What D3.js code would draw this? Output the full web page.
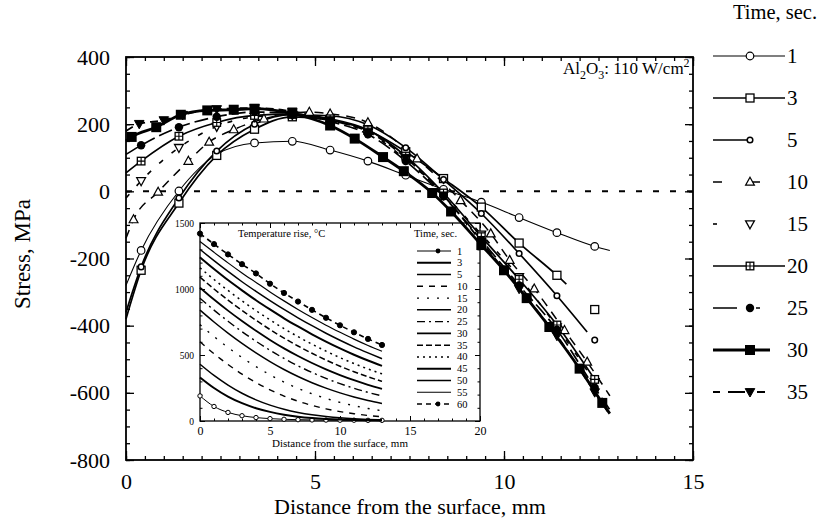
<!DOCTYPE html>
<html>
<head>
<meta charset="utf-8">
<script src="https://cdn.jsdelivr.net/npm/d3@7"></script>
<style>
  body { margin: 0; background: #fff; }
  svg { display: block; }
  text { font-family: "Liberation Serif", "DejaVu Serif", serif; fill: #000; }
</style>
</head>
<body>
<svg id="chart" width="825" height="527"></svg>
<script>
// ---- Stress profiles, Al2O3 at 110 W/cm2 (distance in mm, stress in MPa) ----
const timesMain = ["1", "3", "5", "10", "15", "20", "25", "30", "35"];

const s1x  = [0, 0.4, 1.4, 2.4, 3.4, 4.4, 5.4, 6.4, 7.4, 8.4, 9.4, 10.4, 11.4, 12.4, 12.8];
const s1y  = [-280, -176, 1, 110, 144, 149, 123, 90, 48, 6, -32, -78, -123, -164, -176];

// the last point of the 3 s and 5 s profiles is a lone measurement past the line end
const s3x  = [0, 0.4, 1.4, 2.4, 3.4, 4.4, 5.4, 6.4, 7.4, 8.4, 9.4, 10.4, 11.4, 11.65, 12.4];
const s3y  = [-380, -235, -35, 107, 185, 222, 212, 182, 118, 38, -47, -154, -250, -276, -352];

const s5x  = [0, 0.4, 1.4, 2.4, 3.4, 4.4, 5.4, 6.4, 7.4, 8.4, 9.4, 10.4, 11.4, 12.2, 12.4];
const s5y  = [-360, -225, -20, 120, 200, 228, 225, 198, 130, 35, -66, -185, -311, -419, -443];

const s10x = [0, 0.2, 0.85, 1.65, 2.2, 2.85, 3.65, 4.85, 5.4, 6.4, 7.7, 8.85, 9.65, 10.15, 10.8, 11.6, 12.2, 12.8];
const s10y = [-140, -84, -2, 90, 147, 184, 216, 236, 231, 205, 97, -27, -126, -205, -290, -414, -508, -609];

const s15x = [0, 0.4, 1.4, 2.4, 3.4, 4.4, 5.4, 6.4, 7.4, 8.4, 9.4, 10.4, 11.4, 12.4];
const s15y = [-20, 31, 130, 193, 222, 228, 212, 175, 95, -8, -128, -255, -404, -567];

const s20x = [0, 0.4, 1.4, 2.4, 3.4, 4.4, 5.4, 6.4, 7.4, 8.4, 9.4, 10.4, 11.4, 12.4];
const s20y = [55, 90, 164, 205, 226, 230, 216, 183, 105, -5, -135, -262, -398, -560];

const s25x = [0, 0.4, 1.4, 2.4, 3.4, 4.4, 5.4, 6.4, 7.4, 8.4, 9.4, 10.4, 11.4, 12.4, 12.8];
const s25y = [110, 137, 191, 222, 236, 232, 208, 170, 90, -15, -145, -280, -412, -585, -650];

const s30x = [0, 0.15, 0.8, 1.45, 2.15, 2.85, 3.4, 4.4, 5.4, 6.05, 6.8, 7.35, 8.1, 8.6, 9.4, 10.0, 10.6, 11.2, 12.0, 12.6, 12.8];
const s30y = [150, 162, 191, 228, 241, 243, 246, 231, 196, 157, 102, 60, -5, -60, -160, -235, -318, -404, -528, -630, -662];

const s35x = [0, 0.35, 1.0, 1.5, 2.4, 3.4, 4.4, 5.4, 6.4, 7.4, 8.4, 9.4, 10.4, 11.4, 12.4, 12.8];
const s35y = [180, 201, 212, 228, 245, 248, 238, 212, 178, 100, -12, -150, -290, -430, -598, -665];

const xTicksMain = [0, 5, 10, 15];
const yTicksMain = [400, 200, 0, -200, -400, -600, -800];

// ---- Inset: temperature rise (deg C) vs distance (mm) ----
const timesInset = ["1", "3", "5", "10", "15", "20", "25", "30", "35", "40", "45", "50", "55", "60"];
const instX = [0, 1, 2, 3, 4, 5, 6, 7, 8, 9, 10, 11, 12, 13];
const T1  = [190, 110, 65, 40, 26, 18, 13, 10, 8, 7, 6, 6, 5, 5];
const T3  = [330, 250, 185, 135, 97, 69, 48, 33, 23, 16, 11, 8, 6, 4];
const T5  = [430, 345, 272, 210, 160, 120, 89, 65, 47, 34, 24, 17, 12, 9];
const T10 = [600, 510, 428, 355, 291, 236, 189, 150, 118, 92, 71, 55, 42, 32];
const T15 = [730, 640, 557, 481, 412, 350, 295, 247, 206, 171, 141, 116, 95, 78];
const T20 = [840, 750, 666, 588, 516, 450, 390, 337, 290, 249, 213, 182, 155, 132];
const T25 = [930, 840, 756, 677, 604, 536, 474, 418, 368, 323, 283, 248, 217, 190];
const T30 = [1010, 920, 836, 757, 683, 614, 550, 492, 439, 391, 348, 309, 274, 243];
const T35 = [1090, 1000, 916, 837, 763, 693, 628, 568, 513, 462, 415, 373, 335, 300];
const T40 = [1160, 1072, 989, 910, 836, 766, 700, 639, 582, 529, 480, 435, 394, 357];
const T45 = [1240, 1152, 1068, 990, 915, 845, 778, 716, 657, 602, 550, 502, 458, 418];
const T50 = [1300, 1215, 1133, 1055, 982, 912, 845, 782, 722, 665, 612, 562, 516, 472];
const T55 = [1360, 1278, 1198, 1122, 1050, 978, 910, 845, 784, 726, 672, 620, 572, 528];
const T60 = [1420, 1340, 1262, 1188, 1118, 1040, 970, 905, 842, 782, 725, 672, 622, 576];
const insetXTicks = [0, 5, 10, 15, 20];
const insetYTicks = [0, 500, 1000, 1500];

// ---------------------------------------------------------------------------
const svg = d3.select("#chart");
const M = { left: 126, right: 693, top: 57, bottom: 460 };

const x = d3.scaleLinear().domain([0, 15]).range([M.left, M.right]);
const y = d3.scaleLinear().domain([-800, 400]).range([M.bottom, M.top]);

// Inset geometry
const I = { left: 200, right: 480, top: 223, bottom: 421 };
const ix = d3.scaleLinear().domain([0, 20]).range([I.left, I.right]);
const iy = d3.scaleLinear().domain([0, 1500]).range([I.bottom, I.top]);

const SERIF = '"Liberation Serif", "DejaVu Serif", serif';

// ---- main frame + ticks (all four sides, inward) ----
function ticksOn(g, axisFn, scale, values, size, w) {
  g.call(axisFn(scale).tickValues(values).tickSize(size).tickFormat(""))
   .call(s => s.select(".domain").remove())
   .selectAll("line").attr("stroke", "#000").attr("stroke-width", w);
}
const xMinor = d3.range(0, 15.01, 0.5);
const yMinor = d3.range(-800, 400.1, 50);

ticksOn(svg.append("g").attr("transform", `translate(0,${M.bottom})`), d3.axisBottom, x, xMinor, -4, 1.3);
ticksOn(svg.append("g").attr("transform", `translate(0,${M.bottom})`), d3.axisBottom, x, xTicksMain, -9, 1.3);
ticksOn(svg.append("g").attr("transform", `translate(0,${M.top})`), d3.axisTop, x, xMinor, -4, 1.3);
ticksOn(svg.append("g").attr("transform", `translate(0,${M.top})`), d3.axisTop, x, xTicksMain, -9, 1.3);
ticksOn(svg.append("g").attr("transform", `translate(${M.left},0)`), d3.axisLeft, y, yMinor, -4, 1.3);
ticksOn(svg.append("g").attr("transform", `translate(${M.left},0)`), d3.axisLeft, y, yTicksMain, -8, 1.3);
ticksOn(svg.append("g").attr("transform", `translate(${M.right},0)`), d3.axisRight, y, yMinor, -4, 1.3);
ticksOn(svg.append("g").attr("transform", `translate(${M.right},0)`), d3.axisRight, y, yTicksMain, -8, 1.3);

// tick labels
const xLab = svg.append("g").attr("transform", `translate(0,${M.bottom})`)
  .call(d3.axisBottom(x).tickValues(xTicksMain).tickSize(0).tickPadding(13).tickFormat(d3.format("d")));
xLab.attr("font-family", SERIF).select(".domain").remove();
xLab.selectAll("text").attr("font-family", SERIF).style("font-family", SERIF).style("font-size", "22px");

const yLab = svg.append("g").attr("transform", `translate(${M.left},0)`)
  .call(d3.axisLeft(y).tickValues(yTicksMain).tickSize(0).tickPadding(16).tickFormat(d => String(d)));
yLab.attr("font-family", SERIF).select(".domain").remove();
yLab.selectAll("text").attr("font-family", SERIF).style("font-family", SERIF).style("font-size", "22px");

svg.append("rect").attr("x", M.left).attr("y", M.top)
  .attr("width", M.right - M.left).attr("height", M.bottom - M.top)
  .attr("fill", "none").attr("stroke", "#000").attr("stroke-width", 1.8);

// axis titles
svg.append("text").attr("x", 410).attr("y", 514).attr("text-anchor", "middle")
  .style("font-size", "22px").text("Distance from the surface, mm");
svg.append("text").attr("transform", "translate(30,254) rotate(-90)").attr("text-anchor", "middle")
  .style("font-family", SERIF).style("font-size", "23px").text("Stress, MPa");

// zero reference line
svg.append("line").attr("x1", x(0)).attr("x2", x(15)).attr("y1", y(0)).attr("y2", y(0))
  .attr("stroke", "#000").attr("stroke-width", 2).attr("stroke-dasharray", "6,11");

// material label
const lab = svg.append("text").attr("x", 563).attr("y", 74).style("font-size", "17px");
lab.append("tspan").text("Al");
lab.append("tspan").attr("dy", 5).style("font-size", "12px").text("2");
lab.append("tspan").attr("dy", -5).text("O");
lab.append("tspan").attr("dy", 5).style("font-size", "12px").text("3");
lab.append("tspan").attr("dy", -5).text(": 110 W/cm");
lab.append("tspan").attr("dy", -7).style("font-size", "12px").text("2");

// ---- inset ----
const inset = svg.append("g");
inset.append("rect").attr("x", I.left).attr("y", I.top).attr("width", I.right - I.left)
  .attr("height", I.bottom - I.top).attr("fill", "#fff");

const ixMinor = d3.range(0, 20.01, 1);
const iyMinor = d3.range(0, 1500.1, 100);
ticksOn(inset.append("g").attr("transform", `translate(0,${I.bottom})`), d3.axisBottom, ix, ixMinor, -2.5, 1);
ticksOn(inset.append("g").attr("transform", `translate(0,${I.bottom})`), d3.axisBottom, ix, insetXTicks, -5, 1);
ticksOn(inset.append("g").attr("transform", `translate(0,${I.top})`), d3.axisTop, ix, ixMinor, -2.5, 1);
ticksOn(inset.append("g").attr("transform", `translate(0,${I.top})`), d3.axisTop, ix, insetXTicks, -5, 1);
ticksOn(inset.append("g").attr("transform", `translate(${I.left},0)`), d3.axisLeft, iy, iyMinor, -2.5, 1);
ticksOn(inset.append("g").attr("transform", `translate(${I.left},0)`), d3.axisLeft, iy, insetYTicks, -5, 1);
ticksOn(inset.append("g").attr("transform", `translate(${I.right},0)`), d3.axisRight, iy, iyMinor, -2.5, 1);
ticksOn(inset.append("g").attr("transform", `translate(${I.right},0)`), d3.axisRight, iy, insetYTicks, -5, 1);

const ixl = inset.append("g").attr("transform", `translate(0,${I.bottom})`)
  .call(d3.axisBottom(ix).tickValues(insetXTicks).tickSize(0).tickPadding(5).tickFormat(d3.format("d")));
ixl.select(".domain").remove();
ixl.selectAll("text").attr("font-family", SERIF).style("font-family", SERIF).style("font-size", "12px");
const iyl = inset.append("g").attr("transform", `translate(${I.left},0)`)
  .call(d3.axisLeft(iy).tickValues(insetYTicks).tickSize(0).tickPadding(6).tickFormat(d3.format("d")));
iyl.select(".domain").remove();
iyl.selectAll("text").attr("font-family", SERIF).style("font-family", SERIF).style("font-size", "9.5px");

inset.append("rect").attr("x", I.left).attr("y", I.top).attr("width", I.right - I.left)
  .attr("height", I.bottom - I.top).attr("fill", "none").attr("stroke", "#000").attr("stroke-width", 1.3);

inset.append("text").attr("x", 340).attr("y", 447).attr("text-anchor", "middle")
  .style("font-size", "11px").text("Distance from the surface, mm");
inset.append("text").attr("x", 238).attr("y", 237).style("font-size", "10.5px").text("Temperature rise, °C");
inset.append("text").attr("x", 414).attr("y", 237).style("font-size", "10.5px").text("Time, sec.");

const insetSeries = [T1, T3, T5, T10, T15, T20, T25, T30, T35, T40, T45, T50, T55, T60];
const insetStyle = [
  { w: 1.0, dash: null, mark: "open" },
  { w: 2.0, dash: null },
  { w: 1.5, dash: null },
  { w: 1.4, dash: "6,6" },
  { w: 1.4, dash: "2,8" },
  { w: 1.5, dash: null },
  { w: 1.4, dash: "8,4,2,4" },
  { w: 1.8, dash: null },
  { w: 1.5, dash: "6,3" },
  { w: 1.5, dash: "2,4" },
  { w: 2.0, dash: null },
  { w: 1.5, dash: null },
  { w: 1.2, dash: null },
  { w: 1.6, dash: "5,4", mark: "filled" }
];
const iline = d3.line().x((d, i) => ix(instX[i])).y(d => iy(d)).curve(d3.curveMonotoneX);
insetSeries.forEach((vals, k) => {
  const st = insetStyle[k];
  inset.append("path").attr("d", iline(vals)).attr("fill", "none").attr("stroke", "#000")
    .attr("stroke-width", st.w).attr("stroke-dasharray", st.dash);
  if (st.mark) {
    inset.selectAll(null).data(vals).join("circle")
      .attr("cx", (d, i) => ix(instX[i])).attr("cy", d => iy(d))
      .attr("r", st.mark === "open" ? 2.2 : 2.6)
      .attr("fill", st.mark === "open" ? "#fff" : "#000").attr("stroke", "#000").attr("stroke-width", 1);
  }
});

// inset legend
const ilegY = d3.scaleLinear().domain([0, timesInset.length - 1]).range([251, 404]);
timesInset.forEach((t, k) => {
  const st = insetStyle[k];
  const yy = ilegY(k);
  inset.append("line").attr("x1", 417).attr("x2", 451).attr("y1", yy).attr("y2", yy)
    .attr("stroke", "#000").attr("stroke-width", st.w).attr("stroke-dasharray", st.dash);
  if (st.mark) {
    inset.append("circle").attr("cx", 438).attr("cy", yy).attr("r", 2.4).attr("fill", "#000");
  }
  inset.append("text").attr("x", 457).attr("y", yy + 3.5).style("font-size", "10.5px").text(t);
});

// ---- main series ----
const mainX = [s1x, s3x, s5x, s10x, s15x, s20x, s25x, s30x, s35x];
const mainY = [s1y, s3y, s5y, s10y, s15y, s20y, s25y, s30y, s35y];
// lone: last point is a separate marker, not joined; the point before it only ends the line
const mainStyle = [
  { w: 1.1, dash: null, mark: "circle", legDash: null },
  { w: 1.7, dash: null, mark: "square", legDash: null, lone: true },
  { w: 1.7, dash: null, mark: "smallcircle", legDash: "37,200", lone: true },
  { w: 1.5, dash: "9,7", mark: "tri", legDash: "9,30,8,200" },
  { w: 1.6, dash: "5,11", mark: "itri", legDash: "4,200" },
  { w: 1.7, dash: null, mark: "sqplus", legDash: null },
  { w: 1.7, dash: "14,5", mark: "dot", legDash: "24,19,4,200" },
  { w: 2.8, dash: null, mark: "fsquare", legDash: "57,200" },
  { w: 1.8, dash: "8,5", mark: "fitri", legDash: "7,8,17,12,8,200" }
];

function drawMarker(g, type, cx, cy) {
  switch (type) {
    case "circle":
      g.append("circle").attr("cx", cx).attr("cy", cy).attr("r", 3.8)
        .attr("fill", "#fff").attr("stroke", "#000").attr("stroke-width", 1.2); break;
    case "smallcircle":
      g.append("circle").attr("cx", cx).attr("cy", cy).attr("r", 2.8)
        .attr("fill", "#fff").attr("stroke", "#000").attr("stroke-width", 1.5); break;
    case "square":
      g.append("rect").attr("x", cx - 4).attr("y", cy - 4).attr("width", 8).attr("height", 8)
        .attr("fill", "#fff").attr("stroke", "#000").attr("stroke-width", 1.3); break;
    case "sqplus":
      g.append("rect").attr("x", cx - 3.8).attr("y", cy - 3.8).attr("width", 7.6).attr("height", 7.6)
        .attr("fill", "#fff").attr("stroke", "#000").attr("stroke-width", 1.3);
      g.append("path").attr("d", `M${cx - 3.8},${cy}H${cx + 3.8}M${cx},${cy - 3.8}V${cy + 3.8}`)
        .attr("stroke", "#000").attr("stroke-width", 1.1); break;
    case "tri":
      g.append("path").attr("d", `M${cx},${cy - 4.8}L${cx + 4.4},${cy + 3.2}L${cx - 4.4},${cy + 3.2}Z`)
        .attr("fill", "#fff").attr("stroke", "#000").attr("stroke-width", 1.2); break;
    case "itri":
      g.append("path").attr("d", `M${cx},${cy + 4.8}L${cx + 4.4},${cy - 3.2}L${cx - 4.4},${cy - 3.2}Z`)
        .attr("fill", "#fff").attr("stroke", "#000").attr("stroke-width", 1.3); break;
    case "fitri":
      g.append("path").attr("d", `M${cx},${cy + 5}L${cx + 4.8},${cy - 3.4}L${cx - 4.8},${cy - 3.4}Z`)
        .attr("fill", "#000").attr("stroke", "#000").attr("stroke-width", 1); break;
    case "dot":
      g.append("circle").attr("cx", cx).attr("cy", cy).attr("r", 4.2).attr("fill", "#000"); break;
    case "fsquare":
      g.append("rect").attr("x", cx - 5).attr("y", cy - 5).attr("width", 10).attr("height", 10)
        .attr("fill", "#000"); break;
  }
}

const plot = svg.append("g");
const mline = d3.line().curve(d3.curveMonotoneX);
mainY.forEach((ys, k) => {
  const xs = mainX[k];
  const st = mainStyle[k];
  const n = st.lone ? ys.length - 1 : ys.length;
  const pts = ys.slice(0, n).map((v, i) => [x(xs[i]), y(v)]);
  plot.append("path").attr("d", mline(pts)).attr("fill", "none").attr("stroke", "#000")
    .attr("stroke-width", st.w).attr("stroke-dasharray", st.dash);
});
mainY.forEach((ys, k) => {
  const xs = mainX[k];
  const st = mainStyle[k];
  const last = ys.length - 1;
  ys.forEach((v, i) => {
    if (xs[i] === 0) return;                       // line start at the surface
    if (st.lone && i === last - 1) return;         // line end before a lone point
    if (!st.lone && i === last && xs[i] > 12.5) return; // line end
    drawMarker(plot, st.mark, x(xs[i]), y(v));
  });
});

// ---- main legend ----
svg.append("text").attr("x", 733).attr("y", 19).style("font-size", "20.5px").text("Time, sec.");
const legY = d3.scaleLinear().domain([0, timesMain.length - 1]).range([56, 392]);
timesMain.forEach((t, k) => {
  const st = mainStyle[k];
  const yy = legY(k);
  svg.append("line").attr("x1", 713).attr("x2", 785).attr("y1", yy).attr("y2", yy)
    .attr("stroke", "#000").attr("stroke-width", st.w).attr("stroke-dasharray", st.legDash);
  drawMarker(svg, st.mark, 750, yy);
  svg.append("text").attr("x", 787).attr("y", yy + 7).style("font-size", "21px").text(t);
});
</script>
</body>
</html>
